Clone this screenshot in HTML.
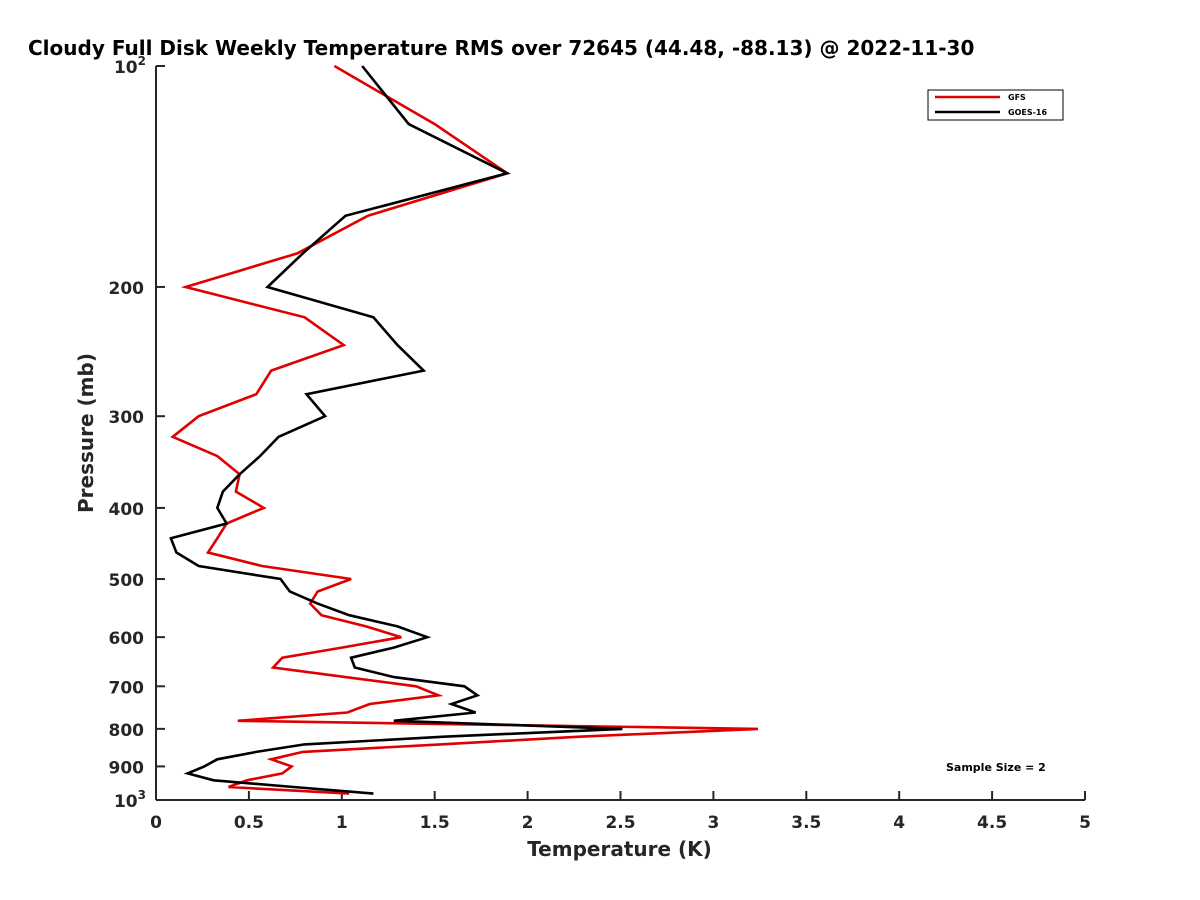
<!DOCTYPE html>
<html><head><meta charset="utf-8"><style>
html,body{margin:0;padding:0;background:#fff;}
svg{display:block;font-family:"DejaVu Sans","Liberation Sans",sans-serif;}
</style></head><body>
<svg id="chart" width="1200" height="900" viewBox="0 0 1200 900" xmlns="http://www.w3.org/2000/svg">
<rect width="1200" height="900" fill="#fff"/>
<text x="28" y="55" font-size="20" font-weight="bold" fill="#000">Cloudy Full Disk Weekly Temperature RMS over 72645 (44.48, -88.13) @ 2022-11-30</text>
<g id="axes"></g>
<g id="series"></g>
<g>
<rect x="928" y="90" width="135" height="30" fill="#fff" stroke="#000" stroke-width="1"/>
<line x1="935" y1="97" x2="1000" y2="97" stroke="#e00000" stroke-width="2.5"/>
<text x="1008" y="100" font-size="8" font-weight="bold">GFS</text>
<line x1="935" y1="112" x2="1000" y2="112" stroke="#000" stroke-width="2.5"/>
<text x="1008" y="115" font-size="8" font-weight="bold">GOES-16</text>
</g>
<text x="946" y="771" font-size="11" font-weight="bold">Sample Size = 2</text>
</svg>
<script>
const pressureLevels = [100,120,140,160,180,200,220,240,260,280,300,320,340,360,380,400,420,440,460,480,500,520,540,560,580,600,620,640,660,680,700,720,740,760,780,800,820,840,860,880,900,920,940,960,980];
const gfsValues = [0.96,1.50,1.89,1.14,0.76,0.16,0.80,1.01,0.62,0.54,0.23,0.09,0.33,0.45,0.43,0.58,0.38,0.33,0.28,0.57,1.05,0.87,0.83,0.89,1.13,1.32,1.00,0.68,0.63,1.02,1.40,1.52,1.15,1.03,0.44,3.24,2.28,1.53,0.79,0.62,0.73,0.68,0.49,0.39,1.04];
const goesValues = [1.11,1.36,1.89,1.02,0.79,0.60,1.17,1.30,1.44,0.81,0.91,0.66,0.56,0.45,0.36,0.33,0.38,0.08,0.11,0.23,0.67,0.72,0.87,1.04,1.30,1.46,1.28,1.05,1.07,1.28,1.66,1.73,1.59,1.72,1.28,2.51,1.55,0.80,0.54,0.33,0.26,0.17,0.31,0.74,1.17];
const xTicks = [0,0.5,1,1.5,2,2.5,3,3.5,4,4.5,5];
const xTickLabels = ["0","0.5","1","1.5","2","2.5","3","3.5","4","4.5","5"];
const yTicks = [100,200,300,400,500,600,700,800,900,1000];
const yTickLabels = ["10^2","200","300","400","500","600","700","800","900","10^3"];

const NS = "http://www.w3.org/2000/svg";
const X0 = 156, X1 = 1085, Y0 = 66, Y1 = 800;
function xs(t){ return X0 + (t - 0) / (5 - 0) * (X1 - X0); }
function ys(p){ return Y0 + (Math.log10(p) - 2) / 1 * (Y1 - Y0); }
function mk(tag, attrs){ const e = document.createElementNS(NS, tag); for (const k in attrs) e.setAttribute(k, attrs[k]); return e; }

const axes = document.getElementById('axes');
const axisColor = "#262626";
const yAxis = mk('line', {x1:X0, y1:Y0, x2:X0, y2:Y1, stroke:axisColor, 'stroke-width':2});


axes.appendChild(yAxis);
const xAxis = mk('line', {x1:X0, y1:Y1, x2:X1, y2:Y1, stroke:axisColor, 'stroke-width':2});


axes.appendChild(xAxis);

xTicks.forEach((t, i) => {
  const x = xs(t);
  const tk = mk('line', {x1:x, y1:Y1, x2:x, y2:Y1 - 9, stroke:axisColor, 'stroke-width':2});
  
  
  axes.appendChild(tk);
  const lb = mk('text', {x:x, y:Y1 + 28, 'text-anchor':'middle', 'font-size':17, 'font-weight':'bold', fill:axisColor});
  lb.textContent = xTickLabels[i];
  
  
  axes.appendChild(lb);
});

yTicks.forEach((p, i) => {
  const y = ys(p);
  const tk = mk('line', {x1:X0, y1:y, x2:X0 + 9, y2:y, stroke:axisColor, 'stroke-width':2});
  
  
  axes.appendChild(tk);
  const lb = mk('text', {x:X0 - 12, y:y + 7, 'text-anchor':'end', 'font-size':17, 'font-weight':'bold', fill:axisColor});
  const s = yTickLabels[i];
  if (s.indexOf('^') >= 0) {
    const parts = s.split('^');
    lb.setAttribute('x', X0 - 10);
    lb.textContent = parts[0];
    const sup = mk('tspan', {'font-size':12, dy:-8});
    sup.textContent = parts[1];
    lb.appendChild(sup);
  } else {
    lb.textContent = s;
  }
  
  
  axes.appendChild(lb);
});

const xt = mk('text', {x:(X0 + X1) / 2 - 1, y:856, 'text-anchor':'middle', 'font-size':20, 'font-weight':'bold', fill:axisColor});
xt.textContent = 'Temperature (K)';


axes.appendChild(xt);
const yt = mk('text', {x:0, y:0, 'text-anchor':'middle', 'font-size':20, 'font-weight':'bold', fill:axisColor, transform:'translate(93,433) rotate(-90)'});
yt.textContent = 'Pressure (mb)';


axes.appendChild(yt);

const series = document.getElementById('series');
function drawLine(vals, color, name){
  const pts = vals.map((v, i) => xs(v).toFixed(1) + ',' + ys(pressureLevels[i]).toFixed(1)).join(' ');
  const pl = mk('polyline', {points:pts, fill:'none', stroke:color, 'stroke-width':2.6, 'stroke-linejoin':'miter'});
  
  
  series.appendChild(pl);
}
drawLine(gfsValues, '#e00000', 'gfs-line');
drawLine(goesValues, '#000000', 'goes16-line');
</script>
</body></html>
